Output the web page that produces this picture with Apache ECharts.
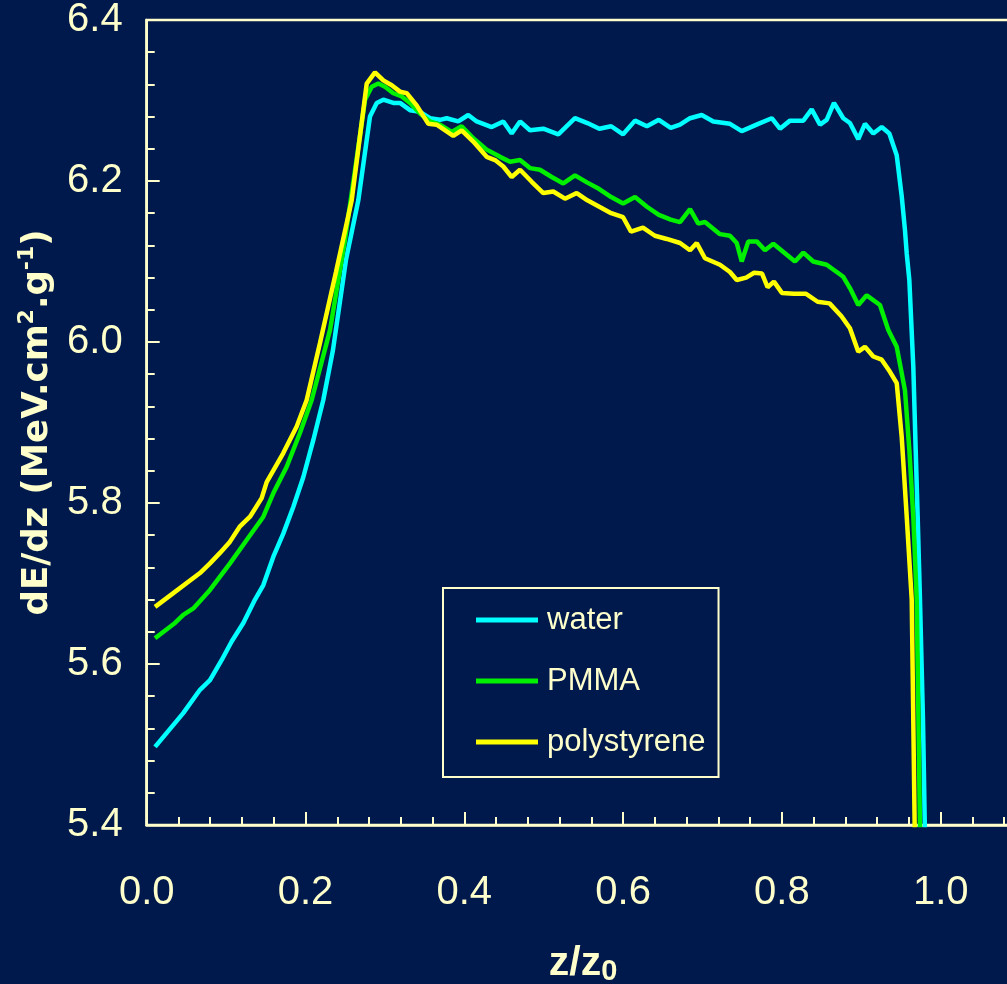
<!DOCTYPE html>
<html>
<head>
<meta charset="utf-8">
<script src="https://cdn.jsdelivr.net/npm/echarts@6/dist/echarts.min.js"></script>
<style>
html,body{margin:0;padding:0;background:#00194C;}
#chart{width:1007px;height:984px;}
</style>
</head>
<body>
<div id="chart"></div>
<script>
var seriesNames = ['water', 'PMMA', 'polystyrene'];

var waterZ = [0.0105,0.046,0.0671,0.0797,0.0945,0.107,0.1217,0.1364,0.1469,0.1594,0.172,0.1846,0.1972,0.2098,0.2224,0.2346,0.251,0.2665,0.2812,0.2897,0.298,0.3106,0.319,0.3316,0.3442,0.3568,0.3694,0.3778,0.3924,0.405,0.4156,0.4345,0.4491,0.4597,0.4702,0.4827,0.4995,0.5184,0.5394,0.555,0.57,0.585,0.60,0.615,0.63,0.645,0.66,0.6717,0.6843,0.699,0.7136,0.7346,0.7494,0.7703,0.7872,0.7976,0.8102,0.827,0.8375,0.848,0.8564,0.8656,0.8773,0.8857,0.8962,0.9046,0.9151,0.9257,0.9353,0.9446,0.9509,0.955,0.9572,0.9605,0.9655,0.9685,0.971,0.9739,0.9777,0.980,0.982];
var waterE = [5.497,5.539,5.568,5.580,5.605,5.628,5.651,5.680,5.698,5.733,5.762,5.795,5.832,5.878,5.928,5.990,6.102,6.176,6.280,6.297,6.301,6.297,6.297,6.288,6.286,6.278,6.276,6.278,6.274,6.282,6.274,6.267,6.274,6.259,6.274,6.263,6.265,6.258,6.278,6.272,6.265,6.268,6.258,6.275,6.268,6.276,6.266,6.270,6.278,6.282,6.274,6.271,6.262,6.271,6.278,6.265,6.275,6.275,6.289,6.270,6.276,6.297,6.278,6.272,6.252,6.271,6.259,6.267,6.259,6.232,6.181,6.139,6.110,6.077,5.969,5.866,5.783,5.680,5.530,5.399,5.30];

var pmmaZ = [0.0105,0.0356,0.0461,0.0587,0.0797,0.1049,0.1259,0.1469,0.1594,0.1763,0.193,0.2078,0.2309,0.2497,0.2661,0.275,0.2834,0.2917,0.3001,0.3106,0.3212,0.3316,0.3442,0.3568,0.3694,0.3841,0.3967,0.4113,0.4282,0.445,0.4576,0.4702,0.4827,0.4953,0.5101,0.5247,0.5394,0.555,0.57,0.585,0.60,0.615,0.63,0.645,0.66,0.6717,0.6843,0.6947,0.7031,0.722,0.7346,0.7431,0.7494,0.7577,0.7683,0.7787,0.7892,0.8165,0.827,0.8395,0.8564,0.8773,0.8857,0.8962,0.9068,0.9235,0.934,0.9446,0.955,0.9605,0.9655,0.9698,0.9739,0.975];
var pmmaE = [5.632,5.651,5.661,5.669,5.692,5.725,5.754,5.783,5.812,5.845,5.887,5.928,6.015,6.127,6.239,6.301,6.317,6.321,6.317,6.309,6.305,6.297,6.284,6.274,6.270,6.261,6.268,6.253,6.239,6.230,6.224,6.226,6.216,6.214,6.205,6.197,6.207,6.198,6.190,6.180,6.172,6.180,6.168,6.158,6.152,6.149,6.165,6.147,6.149,6.134,6.132,6.123,6.100,6.125,6.125,6.114,6.122,6.100,6.111,6.100,6.096,6.081,6.067,6.046,6.058,6.046,6.015,5.994,5.940,5.866,5.783,5.680,5.399,5.30];

var polyZ = [0.0105,0.0335,0.0671,0.0797,0.0923,0.1049,0.1175,0.1301,0.1448,0.1511,0.172,0.1889,0.2015,0.2183,0.2384,0.2582,0.2771,0.2875,0.298,0.3086,0.319,0.3275,0.34,0.3547,0.3652,0.3861,0.3967,0.4113,0.4282,0.4387,0.4491,0.4597,0.4702,0.4849,0.4995,0.5121,0.5268,0.5416,0.555,0.57,0.585,0.60,0.61,0.625,0.64,0.655,0.6717,0.6843,0.6927,0.7031,0.722,0.7346,0.7431,0.755,0.765,0.775,0.782,0.79,0.80,0.815,0.83,0.845,0.86,0.875,0.8857,0.8962,0.9046,0.9151,0.9257,0.9361,0.9446,0.9509,0.9572,0.9635,0.9672,0.969];
var polyE = [5.671,5.688,5.713,5.725,5.738,5.752,5.771,5.783,5.806,5.826,5.862,5.895,5.928,5.999,6.087,6.176,6.321,6.335,6.325,6.319,6.311,6.309,6.294,6.271,6.270,6.256,6.263,6.249,6.230,6.226,6.218,6.205,6.214,6.199,6.185,6.187,6.178,6.185,6.176,6.168,6.160,6.155,6.137,6.142,6.132,6.128,6.123,6.114,6.123,6.104,6.096,6.087,6.077,6.080,6.086,6.085,6.068,6.075,6.061,6.060,6.060,6.050,6.048,6.032,6.017,5.988,5.994,5.982,5.978,5.963,5.949,5.882,5.783,5.680,5.399,5.30];

var xTicks = { min: 0, max: 1.2, interval: 0.2 };
var yTicks = { min: 5.4, max: 6.4, interval: 0.2 };

function zip(a, b) { return a.map(function (v, i) { return [v, b[i]]; }); }

var cream = '#FFFFCC';
var colors = ['#00FFFF', '#00F000', '#FFFF00'];
var chart = echarts.init(document.getElementById('chart'));

function axisCommon() {
  return {
    axisLine: { show: true, lineStyle: { color: cream, width: 2.5 } },
    axisTick: { show: true, inside: true, length: 13, lineStyle: { color: cream, width: 2 } },
    minorTick: { show: true, splitNumber: 5, length: 8, lineStyle: { color: cream, width: 2 } },
    splitLine: { show: false },
    minorSplitLine: { show: false }
  };
}

var xAxis = Object.assign(axisCommon(), {
  type: 'value', min: xTicks.min, max: xTicks.max, interval: xTicks.interval,
  axisLabel: { color: cream, fontSize: 40, fontFamily: 'Liberation Sans', margin: 48,
    showMaxLabel: false, formatter: function (v) { return v.toFixed(1); } },
  name: '{b|z/z}{s|0}', nameLocation: 'middle', nameGap: 117,
  nameTextStyle: { padding: [0, 80, 0, 0],
    rich: { b: { fontSize: 41, fontWeight: 'bold', color: cream, fontFamily: 'Liberation Sans', lineHeight: 44, verticalAlign: 'middle' },
            s: { fontSize: 29, fontWeight: 'bold', color: cream, fontFamily: 'Liberation Sans', lineHeight: 44, verticalAlign: 'bottom' } } }
});

var yAxis = Object.assign(axisCommon(), {
  type: 'value', min: yTicks.min, max: yTicks.max, interval: yTicks.interval,
  axisLabel: { color: cream, fontSize: 40, fontFamily: 'Liberation Sans', margin: 24,
    formatter: function (v) { return v.toFixed(1); } },
  name: '{a|dE/dz (MeV.cm}{s|2}{a|.g}{s|-1}{a|)}', nameLocation: 'middle', nameGap: 86,
  nameTextStyle: {
    rich: { a: { fontSize: 35.5, fontWeight: 'bold', color: cream, fontFamily: 'DejaVu Sans', lineHeight: 40, verticalAlign: 'bottom' },
            s: { fontSize: 22, fontWeight: 'bold', color: cream, fontFamily: 'DejaVu Sans', lineHeight: 40, verticalAlign: 'top' } } }
});

var datasets = [zip(waterZ, waterE), zip(pmmaZ, pmmaE), zip(polyZ, polyE)];

chart.setOption({
  backgroundColor: '#00194C',
  animation: false,
  color: colors,
  grid: { left: 146.7, top: 20, height: 805, width: 952.8, show: true,
    outerBoundsMode: 'none', containLabel: false,
    borderColor: cream, borderWidth: 2.5, backgroundColor: 'transparent' },
  xAxis: xAxis,
  yAxis: yAxis,
  legend: {
    data: seriesNames, orient: 'vertical', left: 443, top: 588,
    icon: 'rect', itemWidth: 62, itemHeight: 5, itemGap: 29,
    borderColor: cream, borderWidth: 2, padding: [16, 13, 19, 33],
    textStyle: { color: cream, fontSize: 31, fontFamily: 'Liberation Sans', lineHeight: 32, padding: [0, 0, 0, 4] }
  },
  series: seriesNames.map(function (n, i) {
    return { name: n, type: 'line', data: datasets[i], showSymbol: false, symbol: 'none',
      clip: true, lineStyle: { width: 4.5, color: colors[i] }, itemStyle: { color: colors[i] } };
  })
});
</script>
</body>
</html>
